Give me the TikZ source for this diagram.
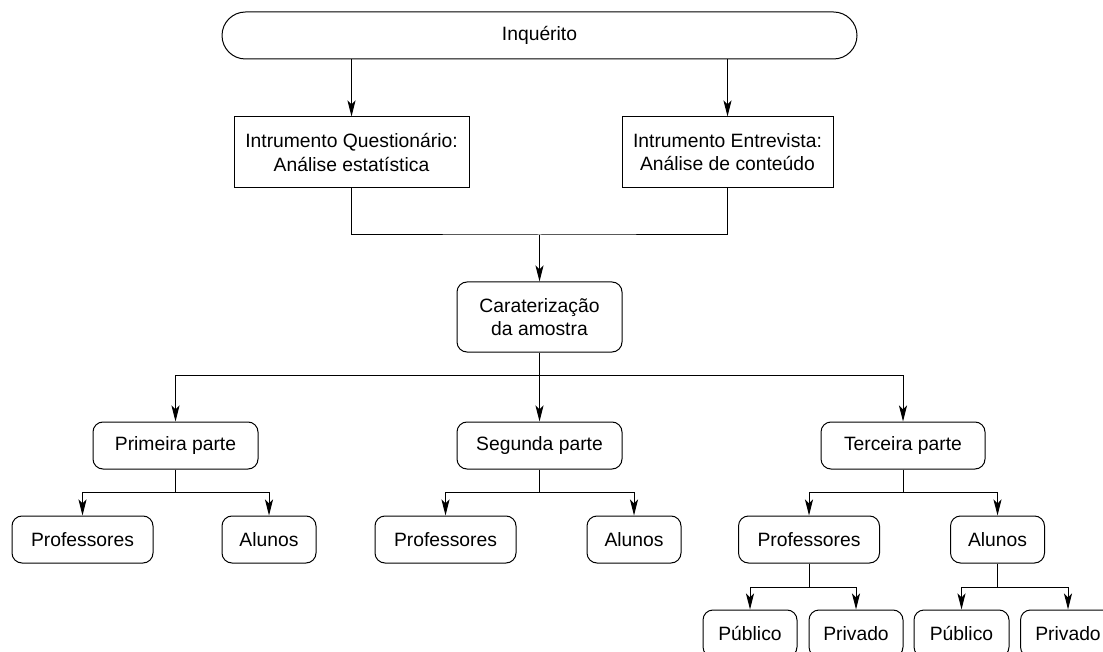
\documentclass[tikz,border=0pt]{standalone}
\usepackage{fontspec}
\setmainfont{Liberation Sans}
\usetikzlibrary{arrows.meta}
\begin{document}
\begin{tikzpicture}[x=1pt,y=-1pt,
  every node/.style={font=\fontsize{19.3}{23.2}\selectfont, inner sep=0pt, align=center},
  base/.style={draw=black, line width=1pt, fill=white},
  sq/.style={base, minimum height=71pt},
  rbox/.style={base, rounded corners=10pt, minimum height=47pt},
  arr/.style={-{Stealth[length=16pt,width=8pt,inset=4pt]}},
  con/.style={line width=1pt, draw=black}
]
\useasboundingbox (0,0) rectangle (1103,652);
\clip (0,0) rectangle (1103,652);
\fill[white] (0,0) rectangle (1103,652);

% nodes
\node[base, rounded corners=23.5pt, minimum width=635pt, minimum height=47pt] (inq) at (539.5,35.5) {Inquérito};
\node[sq, minimum width=235pt] (q) at (351.5,152.5) {Intrumento Questionário:\\Análise estatística};
\node[sq, minimum width=211pt] (e) at (727.5,152.5) {Intrumento Entrevista:\\Análise de conteúdo};
\node[rbox, minimum width=165pt, minimum height=70pt] (c) at (539.5,317) {Caraterização\\da amostra};

\node[rbox, minimum width=165pt] (p1) at (175.5,445.5) {Primeira parte};
\node[rbox, minimum width=165pt] (p2) at (539.5,445.5) {Segunda parte};
\node[rbox, minimum width=164pt] (p3) at (903,445.5) {Terceira parte};

\node[rbox, minimum width=141pt] (p1a) at (82.5,539.5) {Professores};
\node[rbox, minimum width=94pt] (p1b) at (269,539.5) {Alunos};
\node[rbox, minimum width=141pt] (p2a) at (445.5,539.5) {Professores};
\node[rbox, minimum width=94pt] (p2b) at (634,539.5) {Alunos};
\node[rbox, minimum width=141pt] (p3a) at (809,539.5) {Professores};
\node[rbox, minimum width=94pt] (p3b) at (997.5,539.5) {Alunos};

\node[rbox, minimum width=94pt] (l1) at (750,633.5) {Público};
\node[rbox, minimum width=94pt] (l2) at (856,633.5) {Privado};
\node[rbox, minimum width=95pt] (l3) at (961.5,633.5) {Público};
\node[rbox, minimum width=95pt] (l4) at (1068,633.5) {Privado};

% bus coordinates
\coordinate (b1) at (539.5,235);
\coordinate (b2) at (539.5,375);

% connectors
\draw[con,arr] (q.north |- inq.south) -- (q.north);
\draw[con,arr] (e.north |- inq.south) -- (e.north);
\draw[con] (q.south) |- (b1) -| (e.south);
\draw[con,arr] (b1) -- (c.north);

\draw[con] (c.south) -- (b2);
\draw[con,arr] (b2) -| (p1.north);
\draw[con,arr] (b2) -- (p2.north);
\draw[con,arr] (b2) -| (p3.north);

\coordinate (s1) at (175.5,492);
\coordinate (s2) at (539.5,492);
\coordinate (s3) at (903,492);
\draw[con] (p1.south) -- (s1);
\draw[con,arr] (s1) -| (p1a.north);
\draw[con,arr] (s1) -| (p1b.north);
\draw[con] (p2.south) -- (s2);
\draw[con,arr] (s2) -| (p2a.north);
\draw[con,arr] (s2) -| (p2b.north);
\draw[con] (p3.south) -- (s3);
\draw[con,arr] (s3) -| (p3a.north);
\draw[con,arr] (s3) -| (p3b.north);

\coordinate (t1) at (809,587);
\coordinate (t2) at (997.5,587);
\draw[con] (p3a.south) -- (t1);
\draw[con,arr] (t1) -| (l1.north);
\draw[con,arr] (t1) -| (l2.north);
\draw[con] (p3b.south) -- (t2);
\draw[con,arr] (t2) -| (l3.north);
\draw[con,arr] (t2) -| (l4.north);
\end{tikzpicture}
\end{document}
